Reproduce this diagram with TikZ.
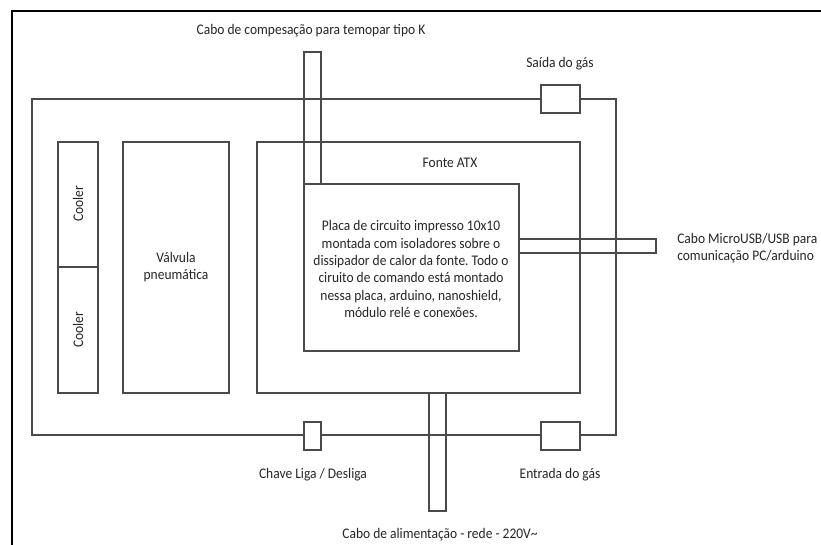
\documentclass[tikz,border=0pt]{standalone}
\usepackage{fontspec}
\setmainfont{Carlito}[FakeStretch=0.92]
\definecolor{ln}{HTML}{4A4A4A}
\definecolor{tx}{HTML}{262626}
\frenchspacing
\begin{document}
\begin{tikzpicture}[x=0.75pt,y=-0.75pt,
  every node/.style={font=\fontsize{11}{13}\selectfont, text=tx},
  box/.style={draw=ln, line width=0.9pt},
  wbox/.style={draw=ln, line width=0.9pt, fill=white},
  lbl/.style={inner sep=0pt}]
\useasboundingbox (0,0) rectangle (821,544);
% frame
\draw[line width=1.6pt, black] (12,600) -- (12,11) -- (900,11);
% outer box
\draw[box, line width=1.1pt] (32,99) rectangle (616,435);
% inner blocks
\draw[box] (257,142) rectangle (580,393);
\node[lbl] (fonte) at (450,163) {Fonte ATX};
\draw[box] (58,142) rectangle (98,267);
\draw[box] (58,267) rectangle (98,393);
\node[lbl, rotate=90] (c1) at (78,204) {Cooler};
\node[lbl, rotate=90] (c2) at (78,330) {Cooler};
\draw[box] (123,142) rectangle (229,393);
\node[lbl, align=center] (valv) at (176,267) {Válvula\\pneumática};
% PCB
\draw[box] (304,184) rectangle (519,351);
\node[lbl, align=center] (pcb) at (411,269) {Placa de circuito impresso 10x10\\montada com isoladores sobre o\\dissipador de calor da fonte. Todo o\\ciruito de comando está montado\\nessa placa, arduino, nanoshield,\\módulo relé e conexões.};
% cable strips
\draw[box] (304,184) -- (304,52) -- (321,52) -- (321,184);
\draw[box] (519,239) -- (656,239) -- (656,253) -- (519,253);
\draw[box] (429,393) -- (429,511) -- (446,511) -- (446,393);
% ports
\draw[wbox] (541,85) rectangle (580,113);
\draw[wbox] (304,422) rectangle (321,450);
\draw[wbox] (541,422) rectangle (580,450);
% labels
\node[lbl] (tk) at (311,31) {Cabo de compesação para temopar tipo K};
\node[lbl] (saida) at (560,64) {Saída do gás};
\node[lbl, align=left, anchor=west] (usb) at (677,248) {Cabo MicroUSB/USB para\\comunicação PC/arduino};
\node[lbl] (chave) at (313,475) {Chave Liga / Desliga};
\node[lbl] (entrada) at (560,475) {Entrada do gás};
\node[lbl] (alim) at (440,535) {Cabo de alimentação - rede - 220V\textasciitilde};
\end{tikzpicture}
\end{document}
